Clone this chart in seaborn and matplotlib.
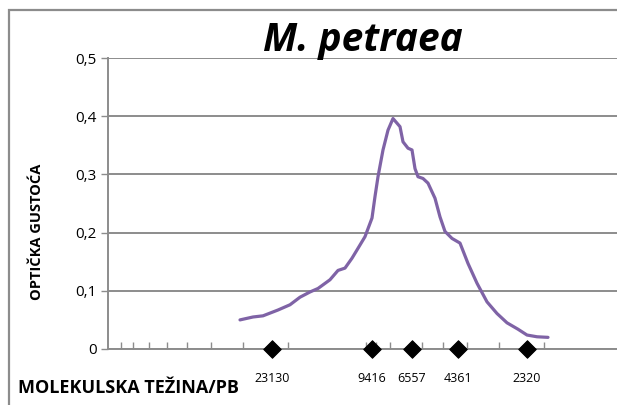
import numpy as np
import pandas as pd
import seaborn as sns
import matplotlib.pyplot as plt
from matplotlib.patches import Rectangle

# densitometry trace (position along lane, optical density)
position = [132, 145, 155, 170, 182, 192, 202, 210, 222, 230, 237, 244, 250, 257,
            264, 267, 270, 275, 280, 285, 289, 292, 295, 300, 304, 307, 310, 315,
            320, 327, 332, 337, 344, 352, 360, 369, 379, 389, 399, 410, 419, 429, 440]
density = [0.050, 0.055, 0.057, 0.067, 0.076, 0.089, 0.098, 0.104, 0.119, 0.135,
           0.139, 0.156, 0.173, 0.193, 0.225, 0.262, 0.296, 0.342, 0.376, 0.396,
           0.388, 0.382, 0.356, 0.345, 0.342, 0.310, 0.296, 0.293, 0.285, 0.259,
           0.227, 0.202, 0.190, 0.182, 0.147, 0.113, 0.081, 0.061, 0.045, 0.034,
           0.024, 0.021, 0.020]

# marker bands (lambda/HindIII) and their sizes
marker_pos = [164, 264, 304, 350, 419]
marker_bp = ['23130', '9416', '6557', '4361', '2320']

lane_ticks = [13, 25, 41, 59, 79, 103, 135, 180, 258, 268, 282, 314, 335, 359, 391, 436]
y_ticks = [0, 0.1, 0.2, 0.3, 0.4, 0.5]

sns.set_style('white')
plt.rcParams['font.family'] = ['Open Sans', 'DejaVu Sans']
plt.rcParams['text.color'] = 'black'
plt.rcParams['ytick.labelcolor'] = 'black'

trace = pd.DataFrame({'pos': position, 'od': density})
markers = pd.DataFrame({'pos': marker_pos, 'od': [0] * len(marker_pos)})

fig = plt.figure(figsize=(6.17, 4.05), dpi=100)
ax = fig.add_axes([108 / 617, 56 / 405, 1 - 108 / 617, 291 / 405])

grey = '#8c8c8c'
sns.lineplot(data=trace, x='pos', y='od', ax=ax, color='#7f63a6', linewidth=2.3)
sns.scatterplot(data=markers, x='pos', y='od', ax=ax, marker='D', s=80,
                color='black', edgecolor='black', clip_on=False, zorder=5)

ax.set_xlim(0, 509)
ax.set_ylim(0, 0.5)
ax.set_yticks(y_ticks)
ax.set_yticklabels([f'{v:g}'.replace('.', ',') for v in y_ticks], fontsize=11)
ax.yaxis.grid(True, color=grey, linewidth=1.4)
ax.set_axisbelow(True)

ax.set_xticks(lane_ticks)
ax.set_xticklabels([])
ax.tick_params(axis='x', direction='in', length=5, width=1, color=grey, bottom=True)
ax.tick_params(axis='y', direction='out', length=5, width=1, color=grey,
               labelcolor='black', left=True, pad=3)

for side in ['top', 'right']:
    ax.spines[side].set_visible(False)
for side in ['left', 'bottom']:
    ax.spines[side].set_color(grey)
    ax.spines[side].set_linewidth(1.4)

ax.set_xlabel('')
ax.set_ylabel('')

for p, lab in zip(marker_pos, marker_bp):
    ax.annotate(lab, (p, 0), xytext=(0, -30), textcoords='offset pixels',
                ha='center', va='center', fontsize=9, color='black')

fig.text(363 / 617, 1 - 40 / 405, 'M. petraea', ha='center', va='center',
         fontsize=28, fontweight='bold', fontstyle='italic', color='black')
fig.text(37 / 617, 1 - 232 / 405, 'OPTIČKA GUSTOĆA', rotation=90, ha='center',
         va='center', fontsize=10.5, fontweight='bold', color='black')
fig.text(18 / 617, 1 - 388 / 405, 'MOLEKULSKA TEŽINA/PB', ha='left', va='center',
         fontsize=13, fontweight='bold', color='black')

fig.patches.append(Rectangle((9 / 617, -0.1), 1.1, 1.1 - 10 / 405 + 0.0,
                             transform=fig.transFigure, fill=False,
                             edgecolor=grey, linewidth=1.6))

fig.savefig('out.png', dpi=100)
